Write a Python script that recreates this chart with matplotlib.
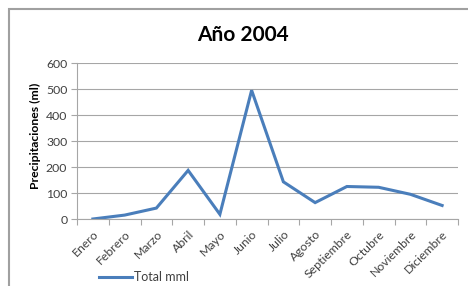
import numpy as np
import matplotlib
matplotlib.use("Agg")
from matplotlib import pyplot as plt
from matplotlib.patches import Rectangle

# data
meses = ["Enero", "Febrero", "Marzo", "Abril", "Mayo", "Junio", "Julio",
         "Agosto", "Septiembre", "Octubre", "Noviembre", "Diciembre"]
total_mml = [0, 15, 42, 187, 18, 495, 143, 63, 125, 122, 95, 52]
yticks = [0, 100, 200, 300, 400, 500, 600]

line_color = "#4A7EBB"
grid_color = "#A6A6A6"
text_color = "#404040"

plt.rcParams["font.family"] = ["Lato", "DejaVu Sans"]

fig = plt.figure(figsize=(4.68, 2.86), dpi=100)
fig.patch.set_facecolor("white")

# outer chart border (cut off at right and bottom as in the reference)
fig.patches.append(Rectangle((9/468, -0.2), 1.2, 1.2 - 9/286, transform=fig.transFigure,
                             fill=False, edgecolor="#A0A0A0", linewidth=1.5, clip_on=False))

ax = fig.add_axes([77/468, 1 - 219/286, 381/468, 156/286])
x = np.arange(len(meses))
ax.plot(x, total_mml, color=line_color, linewidth=2.2, label="Total mml", solid_joinstyle="miter")

ax.set_xlim(-0.5, len(meses) - 0.5)
ax.set_ylim(0, 600)
ax.set_yticks(yticks)
ax.yaxis.grid(True, color=grid_color, linewidth=0.8)
ax.set_axisbelow(True)

ax.set_xticks(x)
ax.set_xticklabels(meses, rotation=45, ha="right", rotation_mode="anchor", fontsize=8.8, color=text_color)
ax.set_xticks(np.arange(-0.5, len(meses)), minor=True)
ax.tick_params(axis="x", which="major", length=0, pad=7)
ax.tick_params(axis="x", which="minor", length=4, color=grid_color, width=0.8)
ax.tick_params(axis="y", length=4, color=grid_color, width=0.8, labelsize=8.8, labelcolor=text_color, pad=3)

for side in ["top", "right"]:
    ax.spines[side].set_visible(False)
for side in ["left", "bottom"]:
    ax.spines[side].set_color(grid_color)
    ax.spines[side].set_linewidth(0.8)

fig.text(35/468, 1 - 136/286, "Precipitaciones (ml)", rotation=90, ha="center", va="center",
         fontsize=8.8, fontweight="bold", color="black")
fig.text(243/468, 1 - 35/286, "Año 2004", ha="center", va="center", fontsize=15, fontweight="bold")

fig.legend(loc="center left", bbox_to_anchor=(88/468, 1 - 277/286), frameon=False,
           fontsize=9, handlelength=2.6, handletextpad=0.2, labelcolor=text_color)

fig.savefig("out.png", dpi=100)
